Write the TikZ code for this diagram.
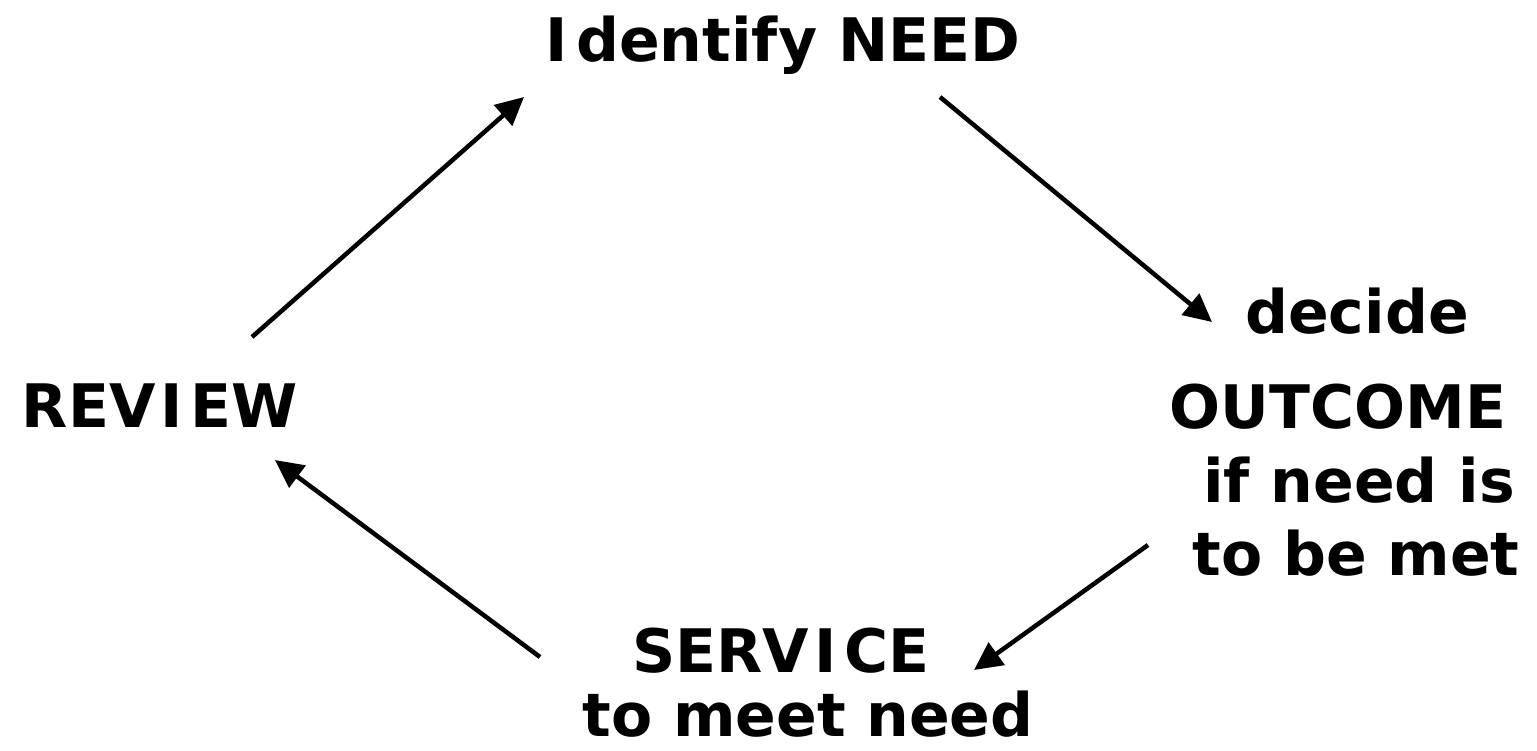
\documentclass[tikz,border=0pt]{standalone}
\usepackage{fontspec}
\setmainfont{DejaVu Sans}
\usetikzlibrary{arrows.meta}
\newcommand\wideI{\kern5pt I\kern8pt}
\tikzset{
  lbl/.style={font=\bfseries\fontsize{60}{70}\selectfont, inner sep=0pt, anchor=base},
  cyc/.style={line width=4.5pt, -{Triangle[length=28pt,width=27pt]}}
}
\begin{document}
\begin{tikzpicture}[x=1pt,y=-1pt]
\useasboundingbox (0,0) rectangle (1537,751);
\node[lbl] (need) at (783,62) {\kern-5pt\wideI dentify NEED};
\node[lbl] (review) at (160,427) {REV\wideI EW};
\node[lbl] (outA) at (1357,334) {decide};
\node[lbl] (outB) at (1338,428) {OUTCOME};
\node[lbl] (outC) at (1359,502) {if need is};
\node[lbl] (outD) at (1356,575) {to be met};
\node[lbl] (servA) at (781,672) {SERV\wideI CE};
\node[lbl] (servB) at (808,736) {to meet need};
\coordinate (a1s) at (252,337); \coordinate (a1e) at (524,97);
\coordinate (a2s) at (940,97);  \coordinate (a2e) at (1212,322);
\coordinate (a3s) at (1148,545); \coordinate (a3e) at (974,670);
\coordinate (a4s) at (540,657); \coordinate (a4e) at (275,460);
\draw[cyc] (a1s) -- (a1e);
\draw[cyc] (a2s) -- (a2e);
\draw[cyc] (a3s) -- (a3e);
\draw[cyc] (a4s) -- (a4e);
\end{tikzpicture}
\end{document}
